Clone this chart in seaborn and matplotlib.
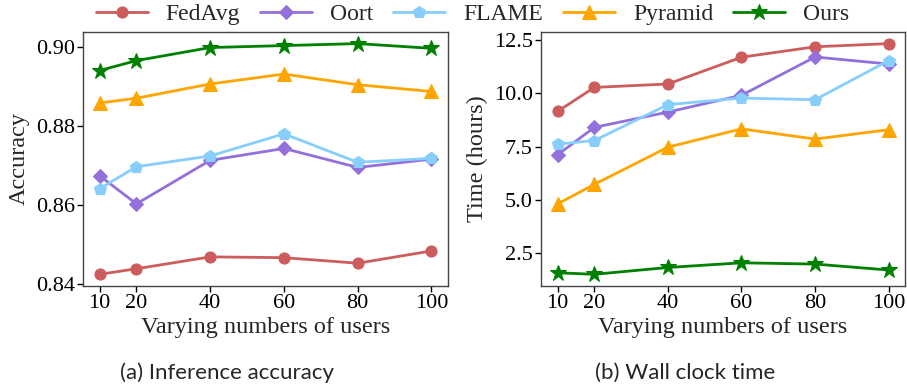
import matplotlib
matplotlib.use("Agg")
import matplotlib.pyplot as plt
import seaborn as sns
import pandas as pd

users = [10, 20, 40, 60, 80, 100]
methods = ["FedAvg", "Oort", "FLAME", "Pyramid", "Ours"]

acc_fedavg = [0.8425, 0.8439, 0.8469, 0.8467, 0.8453, 0.8484]
acc_oort = [0.8674, 0.8603, 0.8713, 0.8743, 0.8695, 0.8716]
acc_flame = [0.8641, 0.8697, 0.8724, 0.8780, 0.8708, 0.8718]
acc_pyramid = [0.8858, 0.8870, 0.8906, 0.8931, 0.8904, 0.8887]
acc_ours = [0.8940, 0.8965, 0.8998, 0.9003, 0.9008, 0.8996]

time_fedavg = [9.15, 10.28, 10.44, 11.70, 12.19, 12.34]
time_oort = [7.11, 8.40, 9.12, 9.91, 11.71, 11.38]
time_flame = [7.61, 7.78, 9.47, 9.78, 9.70, 11.54]
time_pyramid = [4.80, 5.72, 7.47, 8.33, 7.85, 8.29]
time_ours = [1.56, 1.49, 1.81, 2.03, 1.97, 1.69]

acc = [acc_fedavg, acc_oort, acc_flame, acc_pyramid, acc_ours]
tim = [time_fedavg, time_oort, time_flame, time_pyramid, time_ours]

colors = ["#cd5c5c", "#9370db", "#87cefa", "#ffa500", "#008000"]
markers = ["o", "D", "p", "^", "*"]
msizes = [8, 7, 9, 10, 12]

sns.set_theme(style="ticks")
plt.rcParams["font.family"] = ["Liberation Serif", "DejaVu Serif"]
plt.rcParams["axes.edgecolor"] = "#444444"

fig = plt.figure(figsize=(9.07, 3.91), dpi=100)
ax1 = fig.add_axes([0.0915, 0.269, 0.4025, 0.649])
ax2 = fig.add_axes([0.5965, 0.269, 0.4015, 0.649])

for ax, data in [(ax1, acc), (ax2, tim)]:
    for name, vals, c, m, ms in zip(methods, data, colors, markers, msizes):
        df = pd.DataFrame({"users": users, "val": vals})
        sns.lineplot(data=df, x="users", y="val", ax=ax, color=c, marker=m,
                     markersize=ms, markeredgecolor=c, linewidth=2, label=name,
                     legend=False)
    ax.set_xticks(users)
    ax.tick_params(labelsize=16, length=4, width=1, colors="black", pad=2)
    ax.set_xlabel("Varying numbers of users", fontsize=17.5, labelpad=3)
    for s in ax.spines.values():
        s.set_linewidth(1)

ax1.set_ylabel("Accuracy", fontsize=17.5, labelpad=4)
ax1.set_yticks([0.84, 0.86, 0.88, 0.90])
ax1.set_yticklabels(["0.84", "0.86", "0.88", "0.90"])
ax2.set_ylabel("Time (hours)", fontsize=17.5, labelpad=4)
ax2.set_yticks([2.5, 5.0, 7.5, 10.0, 12.5])
ax2.set_yticklabels(["2.5", "5.0", "7.5", "10.0", "12.5"])

h, l = ax1.get_legend_handles_labels()
fig.legend(h, l, loc="upper center", bbox_to_anchor=(0.521, 1.045), ncol=5,
           frameon=False, fontsize=17, handlelength=2.2, columnspacing=0.85,
           handletextpad=0.76)

fig.text(0.25, 0.03, "(a) Inference accuracy", ha="center", fontsize=16,
         family=["Lato", "DejaVu Sans"])
fig.text(0.755, 0.03, "(b) Wall clock time", ha="center", fontsize=16,
         family=["Lato", "DejaVu Sans"])

fig.savefig("out.png", dpi=100)
